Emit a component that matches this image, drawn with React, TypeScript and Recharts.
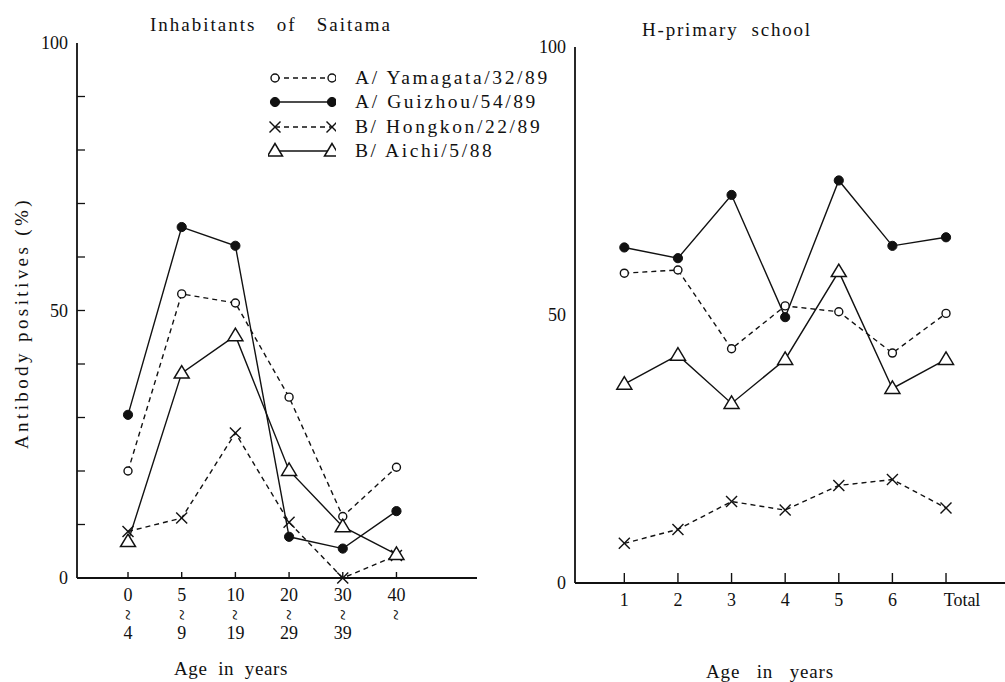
import React from 'react';
import { LineChart, Line, XAxis, YAxis, Legend } from 'recharts';

// Inhabitants of Saitama, by age group (antibody positives, %)
const saitamaAgeFrom = ['0', '5', '10', '20', '30', '40'];
const saitamaAgeTo = ['4', '9', '19', '29', '39', ''];
const saitamaYamagata = [20, 53.1, 51.4, 33.8, 11.5, 20.7];
const saitamaGuizhou = [30.5, 65.6, 62.1, 7.7, 5.5, 12.5];
const saitamaHongkon = [8.7, 11.2, 27.1, 10.4, 0, 4.2];
const saitamaAichi = [6.8, 38.3, 45.3, 20.1, 9.6, 4.4];

// H-primary school, by grade (antibody positives, %)
const schoolGrades = ['1', '2', '3', '4', '5', '6', 'Total'];
const schoolYamagata = [57.8, 58.4, 43.7, 51.7, 50.6, 42.9, 50.3];
const schoolGuizhou = [62.6, 60.6, 72.4, 49.6, 75.1, 62.9, 64.5];
const schoolHongkon = [7.4, 10.0, 15.2, 13.6, 18.2, 19.3, 14.0];
const schoolAichi = [37.1, 42.5, 33.5, 41.7, 58.1, 36.3, 41.7];

const strainNames = ['A/ Yamagata/32/89', 'A/ Guizhou/54/89', 'B/ Hongkon/22/89', 'B/ Aichi/5/88'];

const leftPctTicks = [0, 10, 20, 30, 40, 50, 60, 70, 80, 90, 100];
const labelledPct = [0, 50, 100];

type MarkKind = 'open' | 'filled' | 'cross' | 'triangle';

const INK = '#111';
const FONT = '"Liberation Serif", "DejaVu Serif", serif';

const series: { key: string; kind: MarkKind; dash?: string }[] = [
  { key: 'yam', kind: 'open', dash: '5 4' },
  { key: 'gui', kind: 'filled' },
  { key: 'hon', kind: 'cross', dash: '5 4' },
  { key: 'aic', kind: 'triangle' },
];

const leftData = saitamaAgeFrom.map((_, i) => ({
  i,
  yam: saitamaYamagata[i],
  gui: saitamaGuizhou[i],
  hon: saitamaHongkon[i],
  aic: saitamaAichi[i],
}));

const rightData = schoolGrades.map((_, i) => ({
  i,
  yam: schoolYamagata[i],
  gui: schoolGuizhou[i],
  hon: schoolHongkon[i],
  aic: schoolAichi[i],
}));

function Marker({ kind, cx, cy }: { kind: MarkKind; cx: number; cy: number }) {
  if (kind === 'open') {
    return <circle cx={cx} cy={cy} r={4} fill="#fff" stroke={INK} strokeWidth={1.4} />;
  }
  if (kind === 'filled') {
    return <circle cx={cx} cy={cy} r={4.6} fill={INK} stroke={INK} strokeWidth={1} />;
  }
  if (kind === 'cross') {
    const s = 5.5;
    return (
      <g stroke={INK} strokeWidth={1.4}>
        <line x1={cx - s} y1={cy - s} x2={cx + s} y2={cy + s} />
        <line x1={cx - s} y1={cy + s} x2={cx + s} y2={cy - s} />
      </g>
    );
  }
  const pts = `${cx},${cy - 7.5} ${cx - 7.5},${cy + 5} ${cx + 7.5},${cy + 5}`;
  return <polygon points={pts} fill="#fff" stroke={INK} strokeWidth={1.5} strokeLinejoin="miter" />;
}

function renderLines(prefix: string) {
  return series.map((s) => (
    <Line
      key={`${prefix}-${s.key}`}
      type="linear"
      dataKey={s.key}
      stroke={INK}
      strokeWidth={1.4}
      strokeDasharray={s.dash}
      isAnimationActive={false}
      activeDot={false}
      dot={(p: any) => <Marker key={`${prefix}-${s.key}-${p.index}`} kind={s.kind} cx={p.cx} cy={p.cy} />}
    />
  ));
}

// Age range tick: "from", a vertical wave dash ("to"), then "to" value
function LeftAgeTick(props: any) {
  const { x, y, payload } = props;
  const i = payload.value as number;
  const waveY = y + 37;
  return (
    <g>
      <line x1={x} y1={y} x2={x} y2={y - 6} stroke={INK} strokeWidth={1.4} />
      <text x={x} y={y + 23} textAnchor="middle" fontFamily={FONT} fontSize={18} fill={INK}>
        {saitamaAgeFrom[i]}
      </text>
      <text
        x={x}
        y={waveY}
        textAnchor="middle"
        dominantBaseline="central"
        fontFamily={FONT}
        fontSize={20}
        fill={INK}
        transform={`rotate(90 ${x} ${waveY})`}
      >
        ~
      </text>
      {saitamaAgeTo[i] !== '' && (
        <text x={x} y={y + 61} textAnchor="middle" fontFamily={FONT} fontSize={18} fill={INK}>
          {saitamaAgeTo[i]}
        </text>
      )}
    </g>
  );
}

function RightGradeTick(props: any) {
  const { x, y, payload } = props;
  const i = payload.value as number;
  return (
    <g>
      <line x1={x} y1={y} x2={x} y2={y - 10} stroke={INK} strokeWidth={1.4} />
      <text
        x={x + (i === 6 ? 16 : 0)}
        y={y + 23}
        textAnchor="middle"
        fontFamily={FONT}
        fontSize={18}
        fill={INK}
      >
        {schoolGrades[i]}
      </text>
    </g>
  );
}

function LeftPctTick(props: any) {
  const { x, y, payload } = props;
  const v = payload.value as number;
  return (
    <g>
      {v > 0 && v < 100 && <line x1={x} y1={y} x2={x + 8} y2={y} stroke={INK} strokeWidth={1.3} />}
      {labelledPct.includes(v) && (
        <text x={x - 9} y={y + 6} textAnchor="end" fontFamily={FONT} fontSize={18} fill={INK}>
          {v}
        </text>
      )}
    </g>
  );
}

function RightPctTick(props: any) {
  const { x, y, payload } = props;
  return (
    <text x={x - 9} y={y + 6} textAnchor="end" fontFamily={FONT} fontSize={18} fill={INK}>
      {payload.value}
    </text>
  );
}

function StrainLegend() {
  return (
    <div style={{ fontFamily: FONT, color: INK, textAlign: 'left' }}>
      {series.map((s, k) => (
        <div key={s.key} style={{ display: 'flex', alignItems: 'center', height: 24.3 }}>
          <svg width={68} height={20} style={{ display: 'block', flexShrink: 0 }}>
            <line x1={7} y1={10} x2={64} y2={10} stroke={INK} strokeWidth={1.4} strokeDasharray={s.dash} />
            <Marker kind={s.kind} cx={7} cy={10} />
            <Marker kind={s.kind} cx={64} cy={10} />
          </svg>
          <span style={{ marginLeft: 19, fontSize: 19.5, letterSpacing: 2.6, whiteSpace: 'pre', flexShrink: 0 }}>
            {strainNames[k]}
          </span>
        </div>
      ))}
    </div>
  );
}

const axisStyle = { stroke: INK, strokeWidth: 1.8 };

const textBase: React.CSSProperties = {
  position: 'absolute',
  fontFamily: FONT,
  color: INK,
  whiteSpace: 'pre',
  transform: 'translate(-50%, -50%)',
  lineHeight: '22px',
};

export default function App() {
  return (
    <div style={{ position: 'absolute', left: 0, top: 0, width: 1005, height: 682, background: '#fff', overflow: 'hidden' }}>
      <div style={{ position: 'absolute', left: 0, top: 0 }}>
        <LineChart width={500} height={682} data={leftData} margin={{ top: 43, right: 23, bottom: 44, left: 37 }}>
          <XAxis
            type="number"
            dataKey="i"
            domain={[-0.95, 6.5]}
            ticks={[0, 1, 2, 3, 4, 5]}
            interval={0}
            allowDataOverflow
            height={60}
            tickSize={0}
            tickMargin={0}
            tickLine={false}
            axisLine={axisStyle}
            tick={LeftAgeTick}
          />
          <YAxis
            type="number"
            domain={[0, 100]}
            ticks={leftPctTicks}
            interval={0}
            width={40}
            tickSize={0}
            tickMargin={0}
            tickLine={false}
            axisLine={axisStyle}
            tick={LeftPctTick}
          />
          <Legend
            layout="vertical"
            align="center"
            verticalAlign="middle"
            wrapperStyle={{ left: 268, top: 66, width: 330 }}
            content={() => <StrainLegend />}
          />
          {renderLines('l')}
        </LineChart>
      </div>
      <div style={{ position: 'absolute', left: 500, top: 0 }}>
        <LineChart width={505} height={682} data={rightData} margin={{ top: 47, right: 0, bottom: 49, left: 35 }}>
          <XAxis
            type="number"
            dataKey="i"
            domain={[-0.92, 7.1]}
            ticks={[0, 1, 2, 3, 4, 5, 6]}
            interval={0}
            allowDataOverflow
            height={50}
            tickSize={0}
            tickMargin={0}
            tickLine={false}
            axisLine={axisStyle}
            tick={RightGradeTick}
          />
          <YAxis
            type="number"
            domain={[0, 100]}
            ticks={labelledPct}
            interval={0}
            width={40}
            tickSize={0}
            tickMargin={0}
            tickLine={false}
            axisLine={axisStyle}
            tick={RightPctTick}
          />
          {renderLines('r')}
        </LineChart>
      </div>

      <div style={{ ...textBase, left: 271, top: 25, fontSize: 19, letterSpacing: 2 }}>{'Inhabitants   of   Saitama'}</div>
      <div style={{ ...textBase, left: 727, top: 30, fontSize: 19, letterSpacing: 1.8 }}>{'H-primary  school'}</div>
      <div style={{ ...textBase, left: 231, top: 669, fontSize: 19, letterSpacing: 0.6 }}>{'Age  in  years'}</div>
      <div style={{ ...textBase, left: 770, top: 672, fontSize: 19, letterSpacing: 0.8 }}>{'Age   in   years'}</div>
      <div
        style={{
          ...textBase,
          left: 22,
          top: 323,
          fontSize: 19,
          letterSpacing: 3.4,
          transform: 'translate(-50%, -50%) rotate(-90deg)',
        }}
      >
        {'Antibody positives (%)'}
      </div>
    </div>
  );
}
